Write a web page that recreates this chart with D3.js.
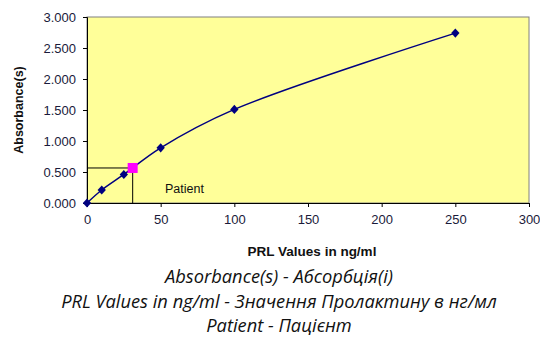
<!DOCTYPE html>
<html>
<head>
<meta charset="utf-8">
<script src="https://cdn.jsdelivr.net/npm/d3@7"></script>
<style>
  body { margin: 0; background: #fff; }
  svg text { font-family: "Liberation Sans", Arial, sans-serif; }
  .caption { font-family: "Open Sans", "Noto Sans", sans-serif; font-style: italic; font-size: 18.3px; fill: #111; }
</style>
</head>
<body>
<div id="chart"></div>
<script>
// standard curve data
var concentrations = [0, 10, 25, 50, 100, 250];
var absorbances = [0, 0.21, 0.46, 0.89, 1.51, 2.74];
var patientValue = [31, 0.565];
var xTicks = [0, 50, 100, 150, 200, 250, 300];
var yTicks = [0, 0.5, 1, 1.5, 2, 2.5, 3];
var captions = ["Absorbance(s) - Абсорбція(і)", "PRL Values in ng/ml - Значення Пролактину в нг/мл", "Patient - Пацієнт"];

var width = 540, height = 337;
var plotLeft = 87, plotRight = 529, plotTop = 17, plotBottom = 203;

var svg = d3.select("#chart").append("svg")
    .attr("width", width)
    .attr("height", height);

var x = d3.scaleLinear().domain([0, 300]).range([plotLeft, plotRight]);
var y = d3.scaleLinear().domain([0, 3]).range([plotBottom, plotTop]);

// plot area
svg.append("rect")
    .attr("x", plotLeft).attr("y", plotTop)
    .attr("width", plotRight - plotLeft).attr("height", plotBottom - plotTop)
    .attr("fill", "#ffff99")
    .attr("stroke", "#808080").attr("stroke-width", 1);

var xAxis = svg.append("g")
    .attr("transform", "translate(0," + plotBottom + ")")
    .call(d3.axisBottom(x).tickValues(xTicks).tickSize(4).tickPadding(8));
var yAxis = svg.append("g")
    .attr("transform", "translate(" + plotLeft + ",0)")
    .call(d3.axisLeft(y).tickValues(yTicks).tickFormat(d3.format(".3f")).tickSize(4).tickPadding(7));

[xAxis, yAxis].forEach(function(g) {
  g.select(".domain").attr("stroke", "#000");
  g.selectAll("line").attr("stroke", "#000");
  g.selectAll("text").attr("font-size", 13).attr("fill", "#1a1a3a")
    .attr("font-family", "Liberation Sans, Arial, sans-serif");
});

// patient lines
svg.append("path")
    .attr("d", "M" + x(0) + "," + y(patientValue[1]) + "H" + x(patientValue[0]) + "V" + y(0))
    .attr("fill", "none").attr("stroke", "#000").attr("stroke-width", 1);

var points = concentrations.map(function(c, i) { return [c, absorbances[i]]; });

var line = d3.line()
    .x(function(d) { return x(d[0]); })
    .y(function(d) { return y(d[1]); })
    .curve(d3.curveCatmullRom.alpha(0.5));

svg.append("path")
    .datum(points)
    .attr("d", line)
    .attr("fill", "none")
    .attr("stroke", "#000080")
    .attr("stroke-width", 1.5);

svg.selectAll(".pt")
    .data(points)
    .enter()
    .append("path")
    .attr("class", "pt")
    .attr("d", d3.symbol(d3.symbolDiamond2, 44))
    .attr("transform", function(d) { return "translate(" + x(d[0]) + "," + y(d[1]) + ") scale(1,1.1)"; })
    .attr("fill", "#000080");

svg.append("rect")
    .attr("x", x(patientValue[0]) - 5)
    .attr("y", y(patientValue[1]) - 5)
    .attr("width", 10).attr("height", 10)
    .attr("fill", "#ff00ff");

svg.append("text")
    .attr("x", 165).attr("y", 193)
    .attr("font-size", 12.5).attr("fill", "#111")
    .text("Patient");

// axis titles
svg.append("text")
    .attr("transform", "translate(23," + 110 + ") rotate(-90)")
    .attr("text-anchor", "middle")
    .attr("font-size", 12.5).attr("font-weight", "bold").attr("fill", "#111")
    .text("Absorbance(s)");

svg.append("text")
    .attr("x", 312).attr("y", 256)
    .attr("text-anchor", "middle")
    .attr("font-size", 13.5).attr("font-weight", "bold").attr("fill", "#111")
    .text("PRL Values in ng/ml");

svg.selectAll(".caption")
    .data(captions)
    .enter()
    .append("text")
    .attr("class", "caption")
    .attr("x", 279)
    .attr("y", function(d, i) { return 283 + i * 24.5; })
    .attr("text-anchor", "middle")
    .text(function(d) { return d; });
</script>
</body>
</html>
